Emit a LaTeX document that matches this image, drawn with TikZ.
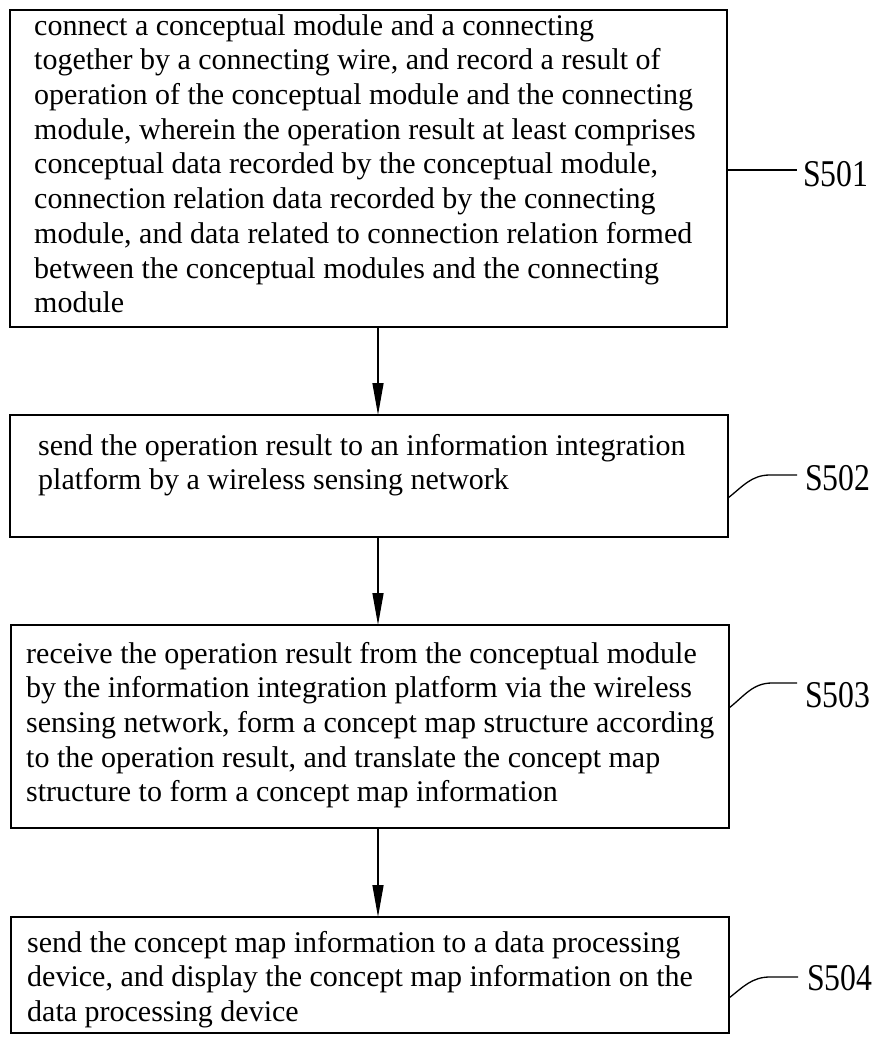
\documentclass[tikz,border=0pt]{standalone}
\usepackage{fontspec}
\setmainfont{Liberation Serif}
\usepackage{graphicx}
\usetikzlibrary{arrows.meta}
\begin{document}
\begin{tikzpicture}[x=1pt,y=-1pt,
  stepbox/.style={draw, line width=2pt, inner sep=0pt, outer sep=0pt, anchor=north west},
  steptext/.style={anchor=north west, inner sep=0pt, align=left, font=\fontsize{30pt}{34.7pt}\selectfont},
  steplabel/.style={anchor=west, inner sep=0pt, font=\fontsize{37.8pt}{40pt}\selectfont},
  flow/.style={line width=1.4pt, -{Triangle[length=32pt,width=11pt]}},
  leader/.style={line width=1.3pt}]
\useasboundingbox (0,0) rectangle (881,1040);
% boxes
\node[stepbox, minimum width=717pt, minimum height=317pt] (b1) at (10,10) {};
\node[stepbox, minimum width=718pt, minimum height=122pt] (b2) at (10,415) {};
\node[stepbox, minimum width=718pt, minimum height=203pt] (b3) at (11,625) {};
\node[stepbox, minimum width=718pt, minimum height=116pt] (b4) at (11,917) {};
% texts
\node[steptext] (t1) at (34,10.7) {\strut connect a conceptual module and a connecting\\
together by a connecting wire, and record a result of\\
operation of the conceptual module and the connecting\\
module, wherein the operation result at least comprises\\
conceptual data recorded by the conceptual module,\\
connection relation data recorded by the connecting\\
module, and data related to connection relation formed\\
between the conceptual modules and the connecting\\
module};
\node[steptext] (t2) at (38,430.7) {\strut send the operation result to an information integration\\
platform by a wireless sensing network};
\node[steptext] (t3) at (26,638.7) {\strut receive the operation result from the conceptual module\\
by the information integration platform via the wireless\\
sensing network, form a concept map structure according\\
to the operation result, and translate the concept map\\
structure to form a concept map information};
\node[steptext] (t4) at (27,927.7) {\strut send the concept map information to a data processing\\
device, and display the concept map information on the\\
data processing device};
% arrows
\coordinate (ax) at (378,0);
\draw[flow] (b1.south -| ax) -- (b2.north -| ax);
\draw[flow] (b2.south -| ax) -- (b3.north -| ax);
\draw[flow] (b3.south -| ax) -- (b4.north -| ax);
% labels
\node[steplabel] (l1) at (803,174.5) {\scalebox{0.84}[1]{S501}};
\node[steplabel] (l2) at (805,478) {\scalebox{0.84}[1]{S502}};
\node[steplabel] (l3) at (805,695) {\scalebox{0.84}[1]{S503}};
\node[steplabel] (l4) at (807,978.5) {\scalebox{0.84}[1]{S504}};
\draw[leader] ([yshift=-1.5pt]b1.east) -- ([xshift=-6pt,yshift=4.5pt]l1.west);
\draw[leader] ([yshift=-22pt]b2.east) to[out=38,in=180] ([xshift=-35pt,yshift=3pt]l2.west) -- ([xshift=-8pt,yshift=3pt]l2.west);
\draw[leader] ([yshift=18.5pt]b3.east) to[out=38,in=180] ([xshift=-33pt,yshift=12pt]l3.west) -- ([xshift=-8pt,yshift=12pt]l3.west);
\draw[leader] ([yshift=-23pt]b4.east) to[out=38,in=180] ([xshift=-37pt,yshift=1.5pt]l4.west) -- ([xshift=-9pt,yshift=1.5pt]l4.west);
\end{tikzpicture}
\end{document}
